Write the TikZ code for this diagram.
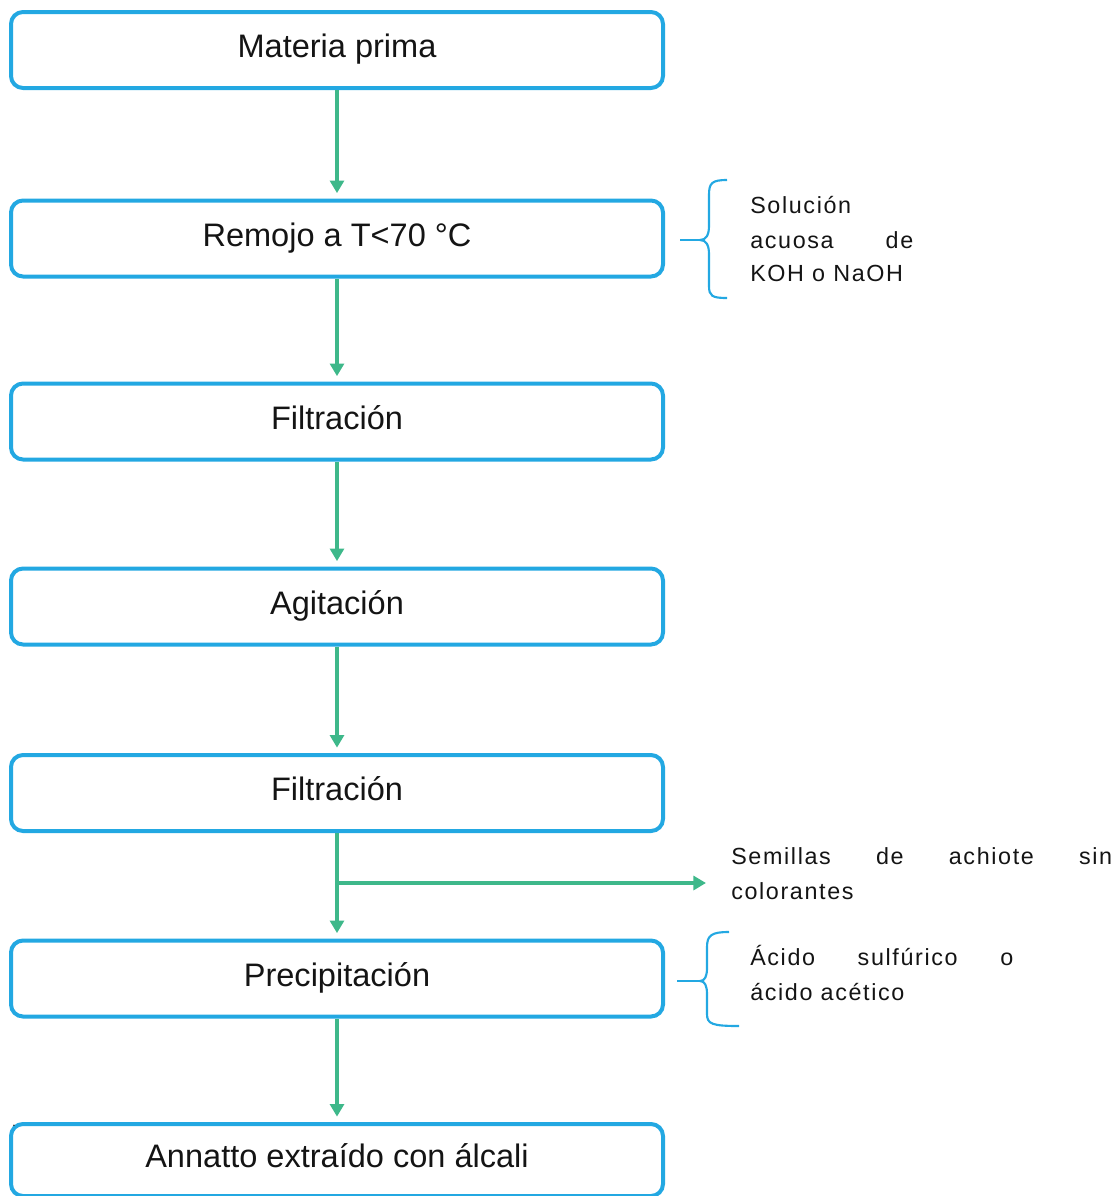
\documentclass[tikz,border=0pt]{standalone}
\usepackage{fontspec}
\setmainfont{Liberation Sans}
\newfontfamily\sidefont[LetterSpace=7]{Liberation Sans}
\usetikzlibrary{arrows.meta}
\definecolor{boxblue}{RGB}{35,168,226}
\definecolor{flowgreen}{RGB}{62,184,138}
\begin{document}
\begin{tikzpicture}[x=0.75pt,y=-0.75pt,
  procbox/.style={draw=boxblue, line width=3pt, rounded corners=9pt,
    minimum width=489pt, minimum height=57pt, inner sep=0pt,
    font=\fontsize{24.4}{28}\selectfont, text=black!92,
    text height=11.5pt, text depth=0pt},
  flow/.style={draw=flowgreen, line width=2.4pt,
    -{Triangle[length=9.5pt,width=10.5pt]}, shorten >=4pt},
  bracepath/.style={draw=boxblue, line width=1.6pt},
  side/.style={inner sep=0pt, font=\sidefont\fontsize{17.5}{20}\selectfont,
    anchor=base west, text=black!92}]
\useasboundingbox (0,0) rectangle (1119,1196);

% process boxes
\node[procbox] (b1) at (337,50)   {Materia prima};
\node[procbox] (b2) at (337,238.5){Remojo a T<70 °C};
\node[procbox] (b3) at (337,421.5){Filtración};
\node[procbox] (b4) at (337,606.5){Agitación};
\node[procbox] (b5) at (337,793)  {Filtración};
\node[procbox] (b6) at (337,978.5){Precipitación};
\node[procbox, minimum height=54pt] (b7) at (337,1160) {Annatto extraído con álcali};

% flow arrows
\draw[flow] (b1) -- (b2);
\draw[flow] (b2) -- (b3);
\draw[flow] (b3) -- (b4);
\draw[flow] (b4) -- (b5);
\draw[flow] (b5) -- (b6);
\draw[flow] (b6) -- (b7);

% branch to side output
\coordinate (junc) at (337,883);
\coordinate (outend) at (706,883);
\draw[flow, shorten >=0pt] (junc) -- (outend);

% side texts
\node[side] (s1) at (750,213) {Solución};
\node[side] (s2) at (750,248) {\hbox to 122.25pt{acuosa\hfill de}};
\node[side] (s3) at (750,281) {KOH o NaOH};

\node[side] (m1) at (731,864) {\hbox to 285.75pt{Semillas\hfill de\hfill achiote\hfill sin}};
\node[side] (m2) at (731,899) {colorantes};

\node[side] (a1) at (750,965) {\hbox to 197.25pt{Ácido\hfill sulfúrico\hfill o}};
\node[side] (a2) at (750,1000) {ácido acético};

% braces
\draw[bracepath] (727,180) .. controls (712,180) and (709,183) .. (709,195)
  -- (709,226) .. controls (709,235) and (706,240) .. (700,240)
  .. controls (706,240) and (709,245) .. (709,254)
  -- (709,286) .. controls (709,296) and (712,298) .. (727,298);
\draw[bracepath] (680,240) -- (700,240);

\draw[bracepath] (729,932) .. controls (712,932) and (707,935) .. (707,947)
  -- (707,968) .. controls (707,976) and (705,981) .. (700,981)
  .. controls (705,981) and (707,986) .. (707,994)
  -- (707,1014) .. controls (707,1024) and (712,1026) .. (739,1026);
\draw[bracepath] (677,981) -- (700,981);

% stray mark
\node[inner sep=0pt, anchor=base, font=\fontsize{9}{9}\selectfont] (stray) at (14,1126) {.};
\end{tikzpicture}
\end{document}
